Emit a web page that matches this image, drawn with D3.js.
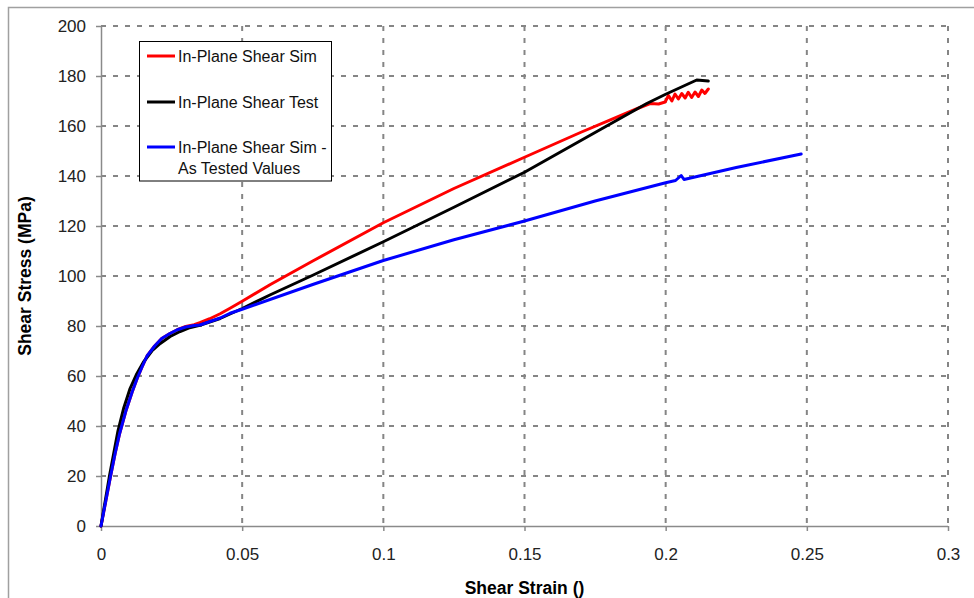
<!DOCTYPE html>
<html>
<head>
<meta charset="utf-8">
<script src="https://cdn.jsdelivr.net/npm/d3@7"></script>
<style>
  html, body { margin: 0; padding: 0; background: #fff; }
  svg { display: block; font-family: "Liberation Sans", Arial, sans-serif; }
</style>
</head>
<body>
<svg id="chart" width="974" height="598"></svg>
<script>
// ---- Data ----
const xTickValues = [0, 0.05, 0.1, 0.15, 0.2, 0.25, 0.3];
const xTickLabels = ["0", "0.05", "0.1", "0.15", "0.2", "0.25", "0.3"];
const yTickValues = [0, 20, 40, 60, 80, 100, 120, 140, 160, 180, 200];
const yTickLabels = ["0", "20", "40", "60", "80", "100", "120", "140", "160", "180", "200"];

const seriesNames = ["In-Plane Shear Sim", "In-Plane Shear Test", "In-Plane Shear Sim -\nAs Tested Values"];

const simStrain = [0, 0.0017, 0.0034, 0.005, 0.0066, 0.0088, 0.011, 0.0128, 0.0145, 0.0163, 0.019, 0.0215, 0.0244, 0.027, 0.030, 0.033, 0.035, 0.0385, 0.0422, 0.0457, 0.05, 0.06, 0.075, 0.1, 0.125, 0.15, 0.17, 0.19, 0.1945, 0.1975, 0.1998,
  0.2010, 0.2022, 0.2033, 0.2045, 0.2057, 0.2069, 0.2080, 0.2092, 0.2104, 0.2116, 0.2128, 0.2139, 0.2151];
const simStress = [0, 10, 20, 29, 37, 46, 53.5, 59, 63.5, 68, 72, 75, 77, 78.5, 79.8, 80.5, 81.3, 82.9, 84.9, 87.1, 89.9, 96.6, 106, 121.3, 135, 147.5, 157.5, 167, 169, 168.8, 169.6,
  172.2, 170.0, 172.8, 170.8, 173.0, 171.2, 173.5, 171.4, 173.6, 171.8, 174.4, 173.0, 174.8];

const testStrain = [0, 0.0015, 0.003, 0.0045, 0.006, 0.008, 0.0103, 0.0125, 0.015, 0.018, 0.021, 0.0245, 0.028, 0.031, 0.035, 0.0422, 0.0457, 0.05, 0.06, 0.075, 0.1, 0.125, 0.15, 0.175, 0.1933, 0.2, 0.211, 0.2151];
const testStress = [0, 10, 20, 29, 38, 47, 55, 60.5, 65.5, 70, 73, 75.8, 77.8, 79.2, 80.3, 83, 84.8, 87, 92.5, 100.3, 113.7, 127.5, 141.5, 157.4, 169, 172.7, 178.4, 178];

const asTestedStrain = [0, 0.0017, 0.0034, 0.005, 0.0066, 0.0088, 0.011, 0.0128, 0.0145, 0.0163, 0.019, 0.0215, 0.0244, 0.027, 0.030, 0.033, 0.035, 0.0422, 0.0457, 0.05, 0.075, 0.1, 0.125, 0.15, 0.175, 0.2, 0.2035, 0.2055, 0.2065, 0.225, 0.248];
const asTestedStress = [0, 10, 20, 29, 37, 46, 53.5, 59, 63.5, 68, 72, 75, 77, 78.5, 79.6, 80.2, 80.4, 83.2, 85.1, 86.7, 96.6, 106.2, 114.5, 122, 130, 137.3, 138.2, 140.2, 138.6, 143.4, 148.8];

const seriesColors = ["#ff0000", "#000000", "#0000ff"];

// ---- Build ----
const svg = d3.select("#chart");
const plot = { left: 101, right: 948, top: 26, bottom: 526 };

const x = d3.scaleLinear().domain([0, 0.3]).range([plot.left, plot.right]);
const y = d3.scaleLinear().domain([0, 200]).range([plot.bottom, plot.top]);

// outer frame
svg.append("rect")
  .attr("x", 8.5).attr("y", 7.5)
  .attr("width", 1000).attr("height", 1000)
  .attr("fill", "none").attr("stroke", "#a0a0a0").attr("stroke-width", 1.5);

// gridlines
const grid = svg.append("g").attr("stroke", "#858585").attr("stroke-width", 2)
  .attr("stroke-dasharray", "5,7").attr("fill", "none");
yTickValues.filter(v => v > 0).forEach(v => {
  grid.append("line").attr("x1", plot.left).attr("x2", plot.right)
    .attr("y1", y(v)).attr("y2", y(v));
});
xTickValues.filter(v => v > 0).forEach(v => {
  grid.append("line").attr("x1", x(v)).attr("x2", x(v))
    .attr("y1", plot.top).attr("y2", plot.bottom);
});

// axes
const xAxis = d3.axisBottom(x).tickValues(xTickValues)
  .tickFormat((d, i) => xTickLabels[i]).tickSize(5).tickPadding(17).tickSizeOuter(0);
const yAxis = d3.axisLeft(y).tickValues(yTickValues)
  .tickFormat((d, i) => yTickLabels[i]).tickSize(5).tickPadding(10).tickSizeOuter(0);

const gx = svg.append("g").attr("transform", `translate(0,${plot.bottom})`).call(xAxis);
const gy = svg.append("g").attr("transform", `translate(${plot.left},0)`).call(yAxis);
[gx, gy].forEach(g => {
  g.select(".domain").attr("stroke", "#8a8a8a").attr("stroke-width", 1.5);
  g.selectAll(".tick line").attr("stroke", "#8a8a8a").attr("stroke-width", 1.5);
  g.selectAll(".tick text").attr("font-size", "17px").attr("fill", "#222")
    .attr("font-family", "'Liberation Sans', Arial, sans-serif");
});
gx.select(".domain").attr("d", `M${plot.left},0.5H${plot.right}`);

// axis titles
svg.append("text")
  .attr("x", (plot.left + plot.right) / 2).attr("y", 594)
  .attr("text-anchor", "middle").attr("font-weight", "bold").attr("font-size", "17.5px")
  .attr("fill", "#000").text("Shear Strain ()");
svg.append("text")
  .attr("transform", `translate(31,${(plot.top + plot.bottom) / 2}) rotate(-90)`)
  .attr("text-anchor", "middle").attr("font-weight", "bold").attr("font-size", "17.5px")
  .attr("fill", "#000").text("Shear Stress (MPa)");

// series
const series = [
  { xs: simStrain, ys: simStress },
  { xs: testStrain, ys: testStress },
  { xs: asTestedStrain, ys: asTestedStress }
];
const line = d3.line().x(d => x(d[0])).y(d => y(d[1]));
series.forEach((s, i) => {
  const pts = s.xs.map((v, k) => [v, s.ys[k]]);
  svg.append("path").datum(pts)
    .attr("d", line)
    .attr("fill", "none")
    .attr("stroke", seriesColors[i])
    .attr("stroke-width", 3)
    .attr("stroke-linejoin", "round")
    .attr("stroke-linecap", "round");
});

// legend
const lg = svg.append("g");
lg.append("rect").attr("x", 139.5).attr("y", 41.5).attr("width", 192).attr("height", 139.5)
  .attr("fill", "#fff").attr("stroke", "#000").attr("stroke-width", 1);
const legendY = [56, 102, 147];
seriesNames.forEach((name, i) => {
  lg.append("line").attr("x1", 147).attr("x2", 175)
    .attr("y1", legendY[i]).attr("y2", legendY[i])
    .attr("stroke", seriesColors[i]).attr("stroke-width", 3);
  const lines = name.split("\n");
  lines.forEach((t, j) => {
    lg.append("text").attr("x", 178).attr("y", legendY[i] + j * 21)
      .attr("dy", "0.35em").attr("font-size", "16px").attr("fill", "#111").text(t);
  });
});
</script>
</body>
</html>
